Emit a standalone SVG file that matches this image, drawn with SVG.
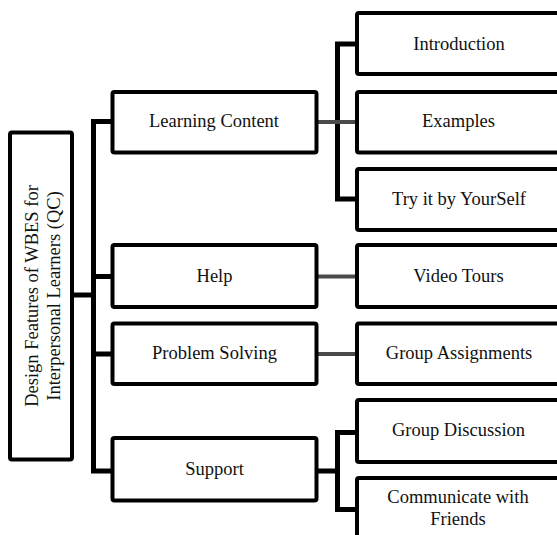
<svg xmlns="http://www.w3.org/2000/svg" width="557" height="535" viewBox="0 0 557 535">
  <style>
    .box { fill: #ffffff; stroke: #000000; stroke-width: 4; }
    .trunk { fill: none; stroke: #000000; stroke-width: 5; stroke-linejoin: miter; }
    .link { fill: none; stroke: #4a4a4a; stroke-width: 4; }
    text { font-family: "Liberation Serif", "Times New Roman", serif; font-size: 18.5px; fill: #111111; text-anchor: middle; }
  </style>
  <rect x="0" y="0" width="557" height="535" fill="#ffffff"/>

  <!-- connectors -->
  <g id="connectors">
    <path class="trunk" d="M72 295 H93.5"/>
    <path class="trunk" d="M112.5 121.5 H93.5 V471 H112.5 M93.5 276.5 H112.5 M93.5 354 H112.5"/>
    <path class="trunk" d="M357 44 H337.5 V199 H357"/>
    <path class="link" d="M316.5 122 H357"/>
    <path class="link" d="M316.5 276.5 H357"/>
    <path class="link" d="M316.5 354 H357"/>
    <path class="trunk" d="M357 432.5 H337.5 V509.5 H357 M316.5 471 H337.5"/>
  </g>

  <!-- root -->
  <g id="root">
    <rect class="box" x="10" y="132.5" width="62" height="327" rx="2"/>
    <text transform="translate(49,296) rotate(-90)"><tspan x="0" y="-11">Design Features of WBES for</tspan><tspan x="0" y="11">Interpersonal Learners (QC)</tspan></text>
  </g>

  <!-- first level -->
  <g id="learning-content">
    <rect class="box" x="112.5" y="92" width="204" height="60.5" rx="2"/>
    <text x="214" y="127">Learning Content</text>
  </g>
  <g id="help">
    <rect class="box" x="112.5" y="245" width="204" height="62" rx="2"/>
    <text x="214.5" y="282">Help</text>
  </g>
  <g id="problem-solving">
    <rect class="box" x="112.5" y="323.5" width="204" height="60.5" rx="2"/>
    <text x="214.5" y="358.5">Problem Solving</text>
  </g>
  <g id="support">
    <rect class="box" x="112.5" y="438" width="204" height="62.5" rx="2"/>
    <text x="214.5" y="475">Support</text>
  </g>

  <!-- second level -->
  <g id="introduction">
    <rect class="box" x="357" y="13" width="220" height="61" rx="2"/>
    <text x="459" y="50">Introduction</text>
  </g>
  <g id="examples">
    <rect class="box" x="357" y="92" width="220" height="60.5" rx="2"/>
    <text x="458.5" y="127">Examples</text>
  </g>
  <g id="try-it">
    <rect class="box" x="357" y="169" width="220" height="61" rx="2"/>
    <text x="459" y="205">Try it by YourSelf</text>
  </g>
  <g id="video-tours">
    <rect class="box" x="357" y="245" width="220" height="62" rx="2"/>
    <text x="458.5" y="282">Video Tours</text>
  </g>
  <g id="group-assignments">
    <rect class="box" x="357" y="323.5" width="220" height="60.5" rx="2"/>
    <text x="459" y="359">Group Assignments</text>
  </g>
  <g id="group-discussion">
    <rect class="box" x="357" y="400" width="220" height="62" rx="2"/>
    <text x="458.5" y="436">Group Discussion</text>
  </g>
  <g id="communicate">
    <rect class="box" x="357" y="478" width="220" height="70" rx="2"/>
    <text x="458" y="502.5">Communicate with</text>
    <text x="458" y="524.5">Friends</text>
  </g>
</svg>
